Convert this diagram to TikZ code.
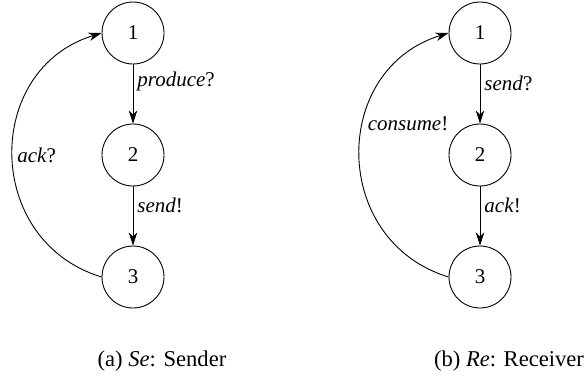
\documentclass[tikz,border=0pt]{standalone}
\usepackage{fontspec}
\setmainfont{Liberation Serif}[ItalicFont={Liberation Serif Italic}]
\usetikzlibrary{arrows.meta}
\tikzset{
  state/.style={draw, circle, minimum size=62pt, inner sep=0pt, line width=0.9pt, font=\fontsize{21}{25}\selectfont},
  trans/.style={line width=0.9pt, -{Stealth[length=13pt, width=8.5pt, inset=4pt]}},
  lab/.style={font=\fontsize{21}{25}\selectfont, inner sep=4pt},
  captext/.style={font=\fontsize{22.6}{27}\selectfont, anchor=base, inner sep=0pt}
}
\begin{document}
\begin{tikzpicture}[x=1pt, y=-1pt]
\useasboundingbox (0,0) rectangle (588,376);
% Sender
\node[state] (s1) at (133,33) {1};
\node[state] (s2) at (133,155) {2};
\node[state] (s3) at (133,277) {3};
\draw[trans] (s1) -- node[lab, right, pos=0.28] {\textit{produce}?} (s2);
\draw[trans] (s2) -- node[lab, right, pos=0.32] {\textit{send}!} (s3);
\draw[trans] (s3.west) to[bend left=73, looseness=1.3] node[lab, right, pos=0.5] {\textit{ack}?} (s1.west);
\node[captext] (capa) at (162,366) {(a) \textit{Se}: Sender};
% Receiver
\node[state] (r1) at (480,33) {1};
\node[state] (r2) at (480,155) {2};
\node[state] (r3) at (480,277) {3};
\draw[trans] (r1) -- node[lab, right, pos=0.32] {\textit{send}?} (r2);
\draw[trans] (r2) -- node[lab, right, pos=0.32] {\textit{ack}!} (r3);
\draw[trans] (r3.west) to[bend left=73, looseness=1.3] node[lab, right, pos=0.6] {\textit{consume}!} (r1.west);
\node[captext] (capb) at (509,366) {(b) \textit{Re}: Receiver};
\end{tikzpicture}
\end{document}
